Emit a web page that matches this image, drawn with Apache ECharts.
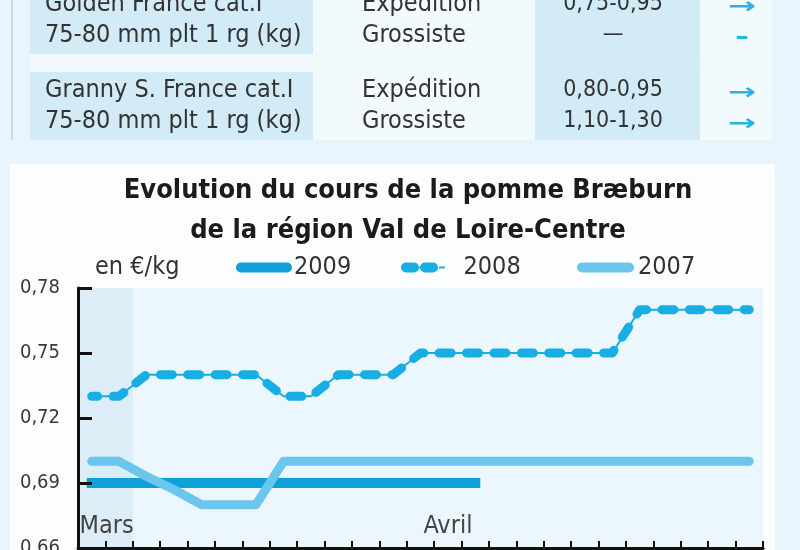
<!DOCTYPE html>
<html>
<head>
<meta charset="utf-8">
<script src="https://cdn.jsdelivr.net/npm/echarts@6/dist/echarts.min.js"></script>
<style>
html,body{margin:0;padding:0;background:#e8f5fc;}
#main{width:800px;height:550px;}
</style>
</head>
<body>
<div id="main"></div>
<script>
// ---- data ----
const categories = ['1','2','3','4','5','6','7','8','9','10','11','12','13','14','15','16','17','18','19','20','21','22','23','24','25'];
const monthLabels = {0: 'Mars', 13: 'Avril'};
const yTicks = [0.66, 0.69, 0.72, 0.75, 0.78];
const seriesNames = ['2009', '2008', '2007'];
const values2009 = [0.69,0.69,0.69,0.69,0.69,0.69,0.69,0.69,0.69,0.69,0.69,0.69,0.69,0.69,0.69,null,null,null,null,null,null,null,null,null,null];
const values2008 = [0.73,0.73,0.74,0.74,0.74,0.74,0.74,0.73,0.73,0.74,0.74,0.74,0.75,0.75,0.75,0.75,0.75,0.75,0.75,0.75,0.77,0.77,0.77,0.77,0.77];
const values2007 = [0.70,0.70,0.693,0.687,0.68,0.68,0.68,0.70,0.70,0.70,0.70,0.70,0.70,0.70,0.70,0.70,0.70,0.70,0.70,0.70,0.70,0.70,0.70,0.70,0.70];
const shadedBands = 2; // "Mars" highlighted columns
const titleLines = ['Evolution du cours de la pomme Bræburn', 'de la région Val de Loire-Centre'];
const unitLabel = 'en €/kg';
// table above the chart
const tableProducts = [['Golden France cat.I', '75-80 mm plt 1 rg (kg)'], ['Granny S. France cat.I', '75-80 mm plt 1 rg (kg)']];
const tableStages = [['Expédition', 'Grossiste'], ['Expédition', 'Grossiste']];
const tablePrices = [['0,75-0,95', '—'], ['0,80-0,95', '1,10-1,30']];
const tableTrends = [['→', '-'], ['→', '→']];

const FONT = "'DejaVu Sans Condensed', 'Liberation Sans Narrow', 'Open Sans', sans-serif";
const C2009 = '#0f9fd9', C2008 = '#17aee3', C2007 = '#6ac6ec';
const PILL = 'path://M5,0H52A5,5 0 0 1 52,10H5A5,5 0 0 1 5,0Z';
const DOTS = 'path://M5,0H13A5,5 0 0 1 13,10H5A5,5 0 0 1 5,0Z M24,0H32A5,5 0 0 1 32,10H24A5,5 0 0 1 24,0Z M17,4.2H20V5.8H17Z M38,4H44V6H38Z';

const chart = echarts.init(document.getElementById('main'), null, {renderer: 'canvas'});

function tableGraphics() {
  const g = [];
  const rowBoxes = [[-10, 54], [72, 140]];
  const lineY = [[4, 35], [90, 121]];
  g.push({type: 'rect', shape: {x: 11, y: 0, width: 2, height: 140}, style: {fill: '#c9dbe4'}, z: 0});
  g.push({type: 'rect', shape: {x: 535, y: 0, width: 165, height: 140}, style: {fill: '#d3ebf7'}, z: 0});
  g.push({type: 'rect', shape: {x: 30, y: 54, width: 505, height: 18}, style: {fill: '#f1f9fd'}, z: 0});
  g.push({type: 'rect', shape: {x: 700, y: 54, width: 72, height: 18}, style: {fill: '#f1f9fd'}, z: 0});
  rowBoxes.forEach(function (b, r) {
    g.push({type: 'rect', shape: {x: 30, y: b[0], width: 283, height: b[1] - b[0]}, style: {fill: '#d3ebf7'}, z: 0});
    g.push({type: 'rect', shape: {x: 313, y: b[0], width: 222, height: b[1] - b[0]}, style: {fill: '#f2fafe'}, z: 0});
    g.push({type: 'rect', shape: {x: 700, y: b[0], width: 72, height: b[1] - b[0]}, style: {fill: '#f2fafe'}, z: 0});
    for (let k = 0; k < 2; k++) {
      const y = lineY[r][k];
      g.push({type: 'text', x: 45, y: y, style: {text: tableProducts[r][k], font: '25px ' + FONT, fill: '#333', verticalAlign: 'middle'}, z: 1});
      g.push({type: 'text', x: 362, y: y, style: {text: tableStages[r][k], font: '25px ' + FONT, fill: '#333', verticalAlign: 'middle'}, z: 1});
      g.push({type: 'text', x: 613, y: y, style: {text: tablePrices[r][k], font: '23px ' + FONT, fill: '#333', align: 'center', verticalAlign: 'middle'}, z: 1});
      g.push({type: 'text', x: 742, y: y + 3, scaleX: 1.7, style: {text: tableTrends[r][k], font: 'bold 22px ' + FONT, fill: '#2db0e3', align: 'center', verticalAlign: 'middle'}, z: 1});
    }
  });
  g.push({type: 'rect', shape: {x: 10, y: 164, width: 765, height: 400}, style: {fill: '#fbfdfe'}, z: -10});
  return g;
}

function legendFor(name, icon, left, width, pad) {
  return {
    data: [{name: name, icon: icon}],
    left: left, top: 250,
    itemWidth: width, itemHeight: 10,
    textStyle: {fontFamily: FONT, fontSize: 25, color: '#333', padding: [0, 0, 0, pad]},
    selectedMode: false
  };
}

const option = {
  animation: false,
  backgroundColor: '#e8f5fc',
  title: {
    text: titleLines.join('\n'),
    left: 403, top: 166, textAlign: 'center',
    textStyle: {fontFamily: FONT, fontWeight: 'bold', fontSize: 27, lineHeight: 40, color: '#1b1b1b'}
  },
  legend: [
    legendFor(seriesNames[0], PILL, 231, 56, -3),
    legendFor(seriesNames[1], DOTS, 396, 51, 10),
    legendFor(seriesNames[2], PILL, 572, 57, -1)
  ],
  grid: {left: 78, right: 37, top: 288, bottom: 2, show: true, backgroundColor: '#ecf7fd', borderWidth: 0, containLabel: false, outerBoundsMode: 'none'},
  xAxis: {
    type: 'category', data: categories, boundaryGap: true, z: 10,
    axisLine: {lineStyle: {color: '#111', width: 3}},
    axisTick: {show: true, inside: true, length: 7, lineStyle: {color: '#111', width: 2}, interval: 0},
    axisLabel: {
      inside: true, interval: 0, margin: 9, color: '#444', fontFamily: FONT, fontSize: 25,
      showMinLabel: true, hideOverlap: false,
      formatter: function (v, i) { const m = monthLabels[i]; if (!m) return ''; return i === 0 ? '{m|' + m + '}' : m; },
      rich: {m: {fontFamily: FONT, fontSize: 25, color: '#444', padding: [0, 0, 0, 30]}}
    },
    splitLine: {show: false}
  },
  yAxis: {
    type: 'value', min: 0.66, max: 0.78, interval: 0.03, z: 10,
    name: unitLabel, nameLocation: 'end', nameGap: 8,
    nameTextStyle: {fontFamily: FONT, fontSize: 25, color: '#333', align: 'left', verticalAlign: 'bottom', padding: [0, 0, 0, 17]},
    axisLine: {show: true, lineStyle: {color: '#111', width: 3}},
    axisTick: {show: true, inside: true, length: 14, lineStyle: {color: '#111', width: 3}},
    axisLabel: {margin: 18, color: '#3a3a3a', fontFamily: FONT, fontSize: 20, showMinLabel: true, showMaxLabel: true,
      formatter: function (v) { return v.toFixed(2).replace('.', ','); }},
    splitLine: {show: false}
  },
  series: [
    {name: '2009', type: 'line', data: values2009, symbol: 'none', z: 3,
      lineStyle: {color: C2009, width: 10, cap: 'square'}, itemStyle: {color: C2009}, emphasis: {disabled: true}},
    {name: '2008', type: 'line', data: values2008, symbol: 'none', z: 5,
      lineStyle: {color: C2008, width: 9, type: [12, 15.4], dashOffset: 6, cap: 'round', join: 'round'}, itemStyle: {color: C2008}, emphasis: {disabled: true}},
    {name: '2008', type: 'line', data: values2008, symbol: 'none', z: 4,
      lineStyle: {color: C2008, width: 2}, itemStyle: {color: C2008}, emphasis: {disabled: true}},
    {name: '2007', type: 'line', data: values2007, symbol: 'none', z: 6,
      lineStyle: {color: C2007, width: 9, cap: 'round', join: 'round'}, itemStyle: {color: C2007}, emphasis: {disabled: true}}
  ],
  graphic: tableGraphics()
};
chart.setOption(option);

// shaded "Mars" band, placed from the category axis scale
const c0 = chart.convertToPixel({xAxisIndex: 0}, 0);
const c1 = chart.convertToPixel({xAxisIndex: 0}, 1);
const half = (c1 - c0) / 2;
const cEnd = chart.convertToPixel({xAxisIndex: 0}, shadedBands - 1);
const yTop = chart.convertToPixel({yAxisIndex: 0}, yTicks[yTicks.length - 1]);
const yBot = chart.convertToPixel({yAxisIndex: 0}, yTicks[0]);
const g = tableGraphics();
g.push({type: 'rect', shape: {x: c0 - half, y: yTop, width: cEnd + half - (c0 - half), height: yBot - yTop}, style: {fill: '#dcedf8'}, z: 1});
chart.setOption({graphic: g}, {replaceMerge: ['graphic']});
</script>
</body>
</html>
